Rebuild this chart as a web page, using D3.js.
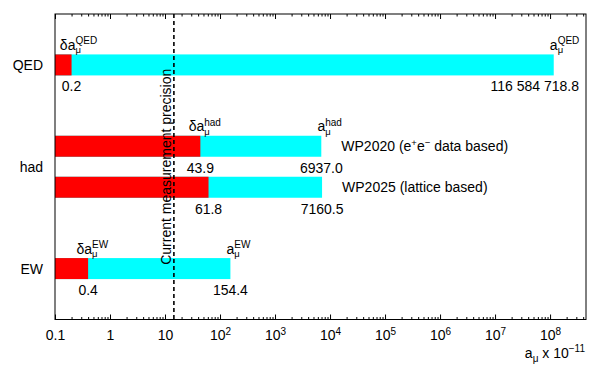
<!DOCTYPE html>
<html>
<head>
<meta charset="utf-8">
<script src="https://cdn.jsdelivr.net/npm/d3@7"></script>
<style>
  body { margin: 0; background: #fff; }
  text { font-family: "Liberation Sans", Arial, Helvetica, sans-serif; fill: #000; }
</style>
</head>
<body>
<svg id="chart" width="598" height="373"></svg>
<script>
// contributions to a_mu, in units of 10^-11
var categories = ["QED", "had", "EW"];
var rowCategory = ["QED", "had", "had", "EW"];
var rowUncertainty = [0.2, 43.9, 61.8, 0.4];
var rowValue = [116584718.8, 6937.0, 7160.5, 154.4];
// note pieces: [text, superscript?]
var rowNote = [
  [],
  [["WP2020 (e", false], ["+", true], ["e", false], ["\u2212", true], [" data based)", false]],
  [["WP2025 (lattice based)", false]],
  []
];
var precision = 14.5;
var decadeExponents = d3.range(-1, 9);
var decadeLabels = ["0.1", "1", "10", "2", "3", "4", "5", "6", "7", "8"];

var svg = d3.select("#chart"),
    margin = {top: 14, right: 12, bottom: 53.5, left: 55},
    width = +svg.attr("width") - margin.left - margin.right,
    height = +svg.attr("height") - margin.top - margin.bottom;

var x = d3.scaleLog()
    .domain([0.1, 4.5e8])
    .range([margin.left, margin.left + width]);

var y = d3.scaleBand()
    .domain(categories)
    .range([margin.top, margin.top + height]);

var rowPitch = 41, barH = 21;

var rows = rowCategory.map(function(c, i) {
  var same = rowCategory.filter(function(d) { return d === c; }).length;
  var idx = rowCategory.slice(0, i).filter(function(d) { return d === c; }).length;
  var center = y(c) + y.bandwidth() / 2 + (idx - (same - 1) / 2) * rowPitch;
  return {cat: c, first: idx === 0, center: center, unc: rowUncertainty[i], val: rowValue[i], note: rowNote[i]};
});

function fmtValue(v) {
  if (v >= 1e6) return d3.format(",.1f")(v).replace(/,/g, " ");
  return v.toFixed(1);
}

// bars
var bars = svg.append("g");
bars.selectAll("rect.val")
  .data(rows)
  .enter().append("rect")
    .attr("x", x(0.1))
    .attr("y", function(d) { return d.center - barH / 2; })
    .attr("width", function(d) { return x(d.val) - x(0.1); })
    .attr("height", barH)
    .attr("fill", "#00ffff");
bars.selectAll("rect.unc")
  .data(rows)
  .enter().append("rect")
    .attr("x", x(0.1))
    .attr("y", function(d) { return d.center - barH / 2; })
    .attr("width", function(d) { return x(d.unc) - x(0.1); })
    .attr("height", barH)
    .attr("fill", "#ff0000");

// axes: minor and major ticks on bottom (inward) and top (inward)
var minor = [];
decadeExponents.forEach(function(k) {
  for (var m = 2; m <= 9; m++) {
    var v = m * Math.pow(10, k);
    if (v <= x.domain()[1]) minor.push(v);
  }
});
var majors = decadeExponents.map(function(k) { return Math.pow(10, k); });

function styleAxis(g) {
  g.select(".domain").remove();
  g.selectAll("line").attr("stroke", "#000");
}

svg.append("g")
    .attr("transform", "translate(0," + (margin.top + height) + ")")
    .call(d3.axisBottom(x).tickValues(minor).tickSize(-2.5).tickFormat(""))
    .call(styleAxis)
    .selectAll("text").remove();
svg.append("g")
    .attr("transform", "translate(0," + margin.top + ")")
    .call(d3.axisTop(x).tickValues(minor).tickSize(-2.5).tickFormat(""))
    .call(styleAxis)
    .selectAll("text").remove();
svg.append("g")
    .attr("transform", "translate(0," + margin.top + ")")
    .call(d3.axisTop(x).tickValues(majors).tickSize(-5).tickFormat(""))
    .call(styleAxis)
    .selectAll("text").remove();

var bottomMajor = svg.append("g")
    .attr("transform", "translate(0," + (margin.top + height) + ")")
    .call(d3.axisBottom(x).tickValues(majors).tickSize(-5).tickPadding(11).tickFormat(""))
    .call(styleAxis);

bottomMajor.selectAll("text")
    .attr("font-size", 14)
    .attr("font-family", "Liberation Sans, Arial, sans-serif")
    .attr("fill", "#000")
    .each(function(d, i) {
      var t = d3.select(this);
      var k = decadeExponents[i];
      if (k < 2) {
        t.text(decadeLabels[i]);
      } else {
        t.append("tspan").text("10");
        t.append("tspan").attr("font-size", 10).attr("dy", "-5").text(decadeLabels[i]);
      }
    });

// frame
svg.append("rect")
    .attr("x", margin.left)
    .attr("y", margin.top)
    .attr("width", width)
    .attr("height", height)
    .attr("fill", "none")
    .attr("stroke", "#000")
    .attr("stroke-width", 1);

// category labels
svg.selectAll("text.cat")
  .data(categories)
  .enter().append("text")
    .attr("x", margin.left - 12)
    .attr("y", function(d) { return y(d) + y.bandwidth() / 2 + 5.5; })
    .attr("text-anchor", "end")
    .attr("font-size", 14)
    .text(function(d) { return d; });

// "δa_mu^X" / "a_mu^X" label: the "a" is centered on xc
function symbolLabel(xc, base, main, sup) {
  var g = svg.append("g");
  var tmp = g.append("text").attr("font-size", 14).text("a");
  var aw = tmp.node().getComputedTextLength();
  tmp.remove();
  var t = g.append("text").attr("font-size", 14).attr("y", base).text(main);
  var L = t.node().getComputedTextLength();
  var x0 = xc + aw / 2 - L;
  t.attr("x", x0);
  g.append("text").attr("font-size", 9.5).attr("x", x0 + L).attr("y", base + 3.5).text("\u03bc");
  g.append("text").attr("font-size", 10).attr("x", x0 + L).attr("y", base - 5.5).text(sup);
}

rows.forEach(function(d) {
  var top = d.center - barH / 2, bot = d.center + barH / 2;
  if (d.first) {
    symbolLabel(x(d.unc), top - 4.5, "\u03b4a", d.cat);
    symbolLabel(x(d.val), top - 4.5, "a", d.cat);
  }
  svg.append("text")
      .attr("x", x(d.unc))
      .attr("y", bot + 16)
      .attr("text-anchor", "middle")
      .attr("font-size", 14)
      .text(fmtValue(d.unc));
  var vt = svg.append("text")
      .attr("y", bot + 16)
      .attr("text-anchor", "middle")
      .attr("font-size", 14)
      .text(fmtValue(d.val));
  var L = vt.node().getComputedTextLength();
  vt.attr("x", Math.min(x(d.val), x.range()[1] - 7 - L / 2));

  if (d.note.length) {
    var nt = svg.append("text")
        .attr("x", x(d.val) + 20)
        .attr("y", d.center + 5)
        .attr("font-size", 14);
    var up = false;
    d.note.forEach(function(p) {
      var s = nt.append("tspan").text(p[0]);
      if (p[1] && !up) { s.attr("font-size", 9.5).attr("dy", -5); up = true; }
      else if (!p[1] && up) { s.attr("dy", 5); up = false; }
      else if (p[1]) s.attr("font-size", 9.5);
    });
  }
});

// current measurement precision
svg.append("line")
    .attr("x1", x(precision))
    .attr("x2", x(precision))
    .attr("y1", margin.top)
    .attr("y2", margin.top + height)
    .attr("stroke", "#000")
    .attr("stroke-width", 1.6)
    .attr("stroke-dasharray", "4,3");

svg.append("text")
    .attr("transform", "translate(" + (x(precision) - 3) + "," + (margin.top + height / 2) + ") rotate(-90)")
    .attr("text-anchor", "middle")
    .attr("font-size", 14)
    .text("Current measurement precision");

// x axis title
var title = svg.append("text")
    .attr("x", x.range()[1] - 1)
    .attr("y", 358)
    .attr("text-anchor", "end")
    .attr("font-size", 14);
title.append("tspan").text("a");
title.append("tspan").attr("font-size", 10).attr("dy", 3.5).text("\u03bc");
title.append("tspan").attr("dy", -3.5).text("  x 10");
title.append("tspan").attr("font-size", 10).attr("dy", -6).text("\u221211");
</script>
</body>
</html>
